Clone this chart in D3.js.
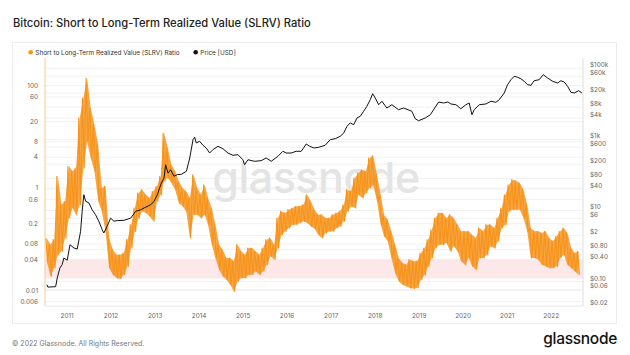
<!DOCTYPE html>
<html><head><meta charset="utf-8">
<script src="https://cdn.jsdelivr.net/npm/d3@7"></script>
<style>
body{margin:0;background:#fff;}
svg{display:block;font-family:Inter,"Noto Sans",sans-serif;}
</style></head><body>
<svg id="c" width="630" height="355"></svg>
<script>
const years = [2011,2012,2013,2014,2015,2016,2017,2018,2019,2020,2021,2022];
const leftTicks = [100,60,20,8,4,1,0.6,0.2,0.08,0.04,0.01,0.006];
const leftTickLabels = ["100","60","20","8","4","1","0.6","0.2","0.08","0.04","0.01","0.006"];
const rightTicks = [100000,60000,20000,8000,4000,1000,600,200,80,40,10,6,2,0.8,0.4,0.1,0.06,0.02];
const rightTickLabels = ["$100k","$60k","$20k","$8k","$4k","$1k","$600","$200","$80","$40","$10","$6","$2","$0.80","$0.40","$0.10","$0.06","$0.02"];
const bandRange = [0.017, 0.04];

// SLRV: monthly high / low of the daily ratio, from Jul 2010 to Aug 2022
const slrvStartMonth = "2010-07-01";
const slrvHigh = [
 0.105,0.078,0.098,1.69,0.472,0.549,2.65,2.12,2.46,23.4,
 57.5,141,36.6,17.3,7.03,1.00,1.08,0.105,0.0623,0.0497,
 0.0497,0.0536,0.0977,0.192,0.406,0.799,0.928,0.740,0.637,0.861,
 1.08,1.69,11.9,6.05,2.86,2.12,1.35,1.00,0.861,0.637,
 1.82,1.00,0.740,1.16,0.637,0.406,0.192,0.078,0.0623,0.0428,
 0.0428,0.0368,0.078,0.0578,0.0497,0.0671,0.0671,0.0578,0.0497,0.0671,
 0.0977,0.105,0.078,0.259,0.350,0.324,0.377,0.406,0.438,0.438,
 0.472,0.740,0.549,0.377,0.301,0.301,0.259,0.259,0.301,0.324,
 0.350,0.472,0.928,0.861,1.57,1.97,2.28,2.12,3.86,4.29,
 1.82,0.740,0.301,0.240,0.142,0.078,0.0428,0.0342,0.0317,0.0397,
 0.0368,0.0368,0.0536,0.0671,0.0977,0.153,0.259,0.324,0.324,0.259,
 0.301,0.259,0.192,0.142,0.142,0.142,0.122,0.105,0.165,0.142,
 0.192,0.192,0.165,0.259,0.406,0.740,1.16,1.455,1.39,1.25,
 0.928,0.472,0.165,0.142,0.142,0.132,0.142,0.105,0.0907,0.1135,
 0.142,0.165,0.132,0.0671,0.0536,0.0578];
const slrvLow = [
 0.0368,0.0188,0.0273,0.0497,0.0578,0.105,0.259,0.406,0.301,0.472,
 2.46,8.18,3.86,2.12,0.549,0.350,0.142,0.0273,0.0202,0.0174,
 0.0169,0.0202,0.0294,0.0671,0.142,0.259,0.350,0.324,0.279,0.223,
 0.549,0.740,1.35,1.57,1.25,0.928,0.509,0.438,0.350,0.105,
 0.301,0.301,0.259,0.301,0.192,0.078,0.0428,0.0253,0.0188,0.0161,
 0.0129,0.00954,0.0150,0.0174,0.0174,0.0202,0.0202,0.0235,0.0202,0.0235,
 0.0317,0.0461,0.0397,0.0671,0.122,0.142,0.165,0.192,0.192,0.207,
 0.223,0.207,0.178,0.160,0.122,0.105,0.132,0.142,0.142,0.165,
 0.178,0.223,0.350,0.438,0.406,0.740,0.637,0.799,1.00,1.16,
 0.549,0.192,0.1135,0.0907,0.0428,0.0218,0.0150,0.0129,0.0120,0.0111,
 0.0108,0.0111,0.0161,0.0202,0.0294,0.0428,0.0671,0.078,0.078,0.0841,
 0.0578,0.0724,0.0578,0.0368,0.0317,0.0428,0.0294,0.0253,0.0428,0.0428,
 0.0497,0.0724,0.0671,0.0907,0.165,0.192,0.350,0.377,0.377,0.377,
 0.259,0.142,0.0428,0.0428,0.0397,0.0317,0.0294,0.0273,0.0273,0.0294,
 0.0428,0.0497,0.0317,0.0273,0.0235,0.0202];

const priceDates = ["2010-07-18","2010-07-25","2010-09-28","2010-10-11","2010-11-02","2010-11-21","2010-12-05","2011-01-02","2011-01-25","2011-02-27",
"2011-03-26","2011-04-23","2011-05-06","2011-05-20","2011-06-04","2011-07-01","2011-07-28","2011-08-25","2011-09-21","2011-10-19",
"2011-11-02","2011-11-29","2011-12-28","2012-01-24","2012-02-21","2012-04-17","2012-06-12","2012-07-23","2012-09-03","2012-10-01",
"2012-11-25","2012-12-23","2013-01-19","2013-02-16","2013-03-15","2013-03-29","2013-04-17","2013-05-10","2013-06-06","2013-07-03",
"2013-08-06","2013-09-17","2013-10-15","2013-11-11","2013-11-25","2013-12-08","2014-01-05","2014-02-02","2014-03-01","2014-03-29",
"2014-04-25","2014-06-06","2014-07-17","2014-08-28","2014-10-09","2014-11-19","2014-12-30","2015-01-13","2015-02-10","2015-04-06",
"2015-05-31","2015-07-11","2015-08-22","2015-10-17","2015-11-27","2015-12-24","2016-02-04","2016-03-16","2016-04-27","2016-06-08",
"2016-07-06","2016-08-11",
"2016-09-19","2016-11-12","2016-12-24","2017-02-04","2017-03-17","2017-04-15","2017-05-12","2017-06-08","2017-07-07","2017-08-03",
"2017-08-30","2017-09-27","2017-10-24","2017-11-21","2017-12-11","2018-01-02","2018-01-30","2018-02-26","2018-04-08","2018-05-20",
"2018-07-14","2018-08-25","2018-11-02","2018-11-29","2018-12-27","2019-02-21","2019-04-04","2019-05-10","2019-06-12","2019-07-23",
"2019-08-28",
"2019-09-22","2019-11-02","2019-12-13","2020-01-24","2020-02-20","2020-03-14","2020-04-02","2020-05-14","2020-07-08","2020-08-19",
"2020-09-29","2020-10-27","2020-12-07","2021-01-04","2021-02-01","2021-02-28","2021-03-28","2021-04-24","2021-05-22","2021-06-19",
"2021-07-17","2021-08-13","2021-09-23","2021-10-27","2021-12-02","2022-01-13","2022-02-23","2022-03-23","2022-04-19","2022-05-17",
"2022-06-14","2022-07-11","2022-08-17","2022-09-13"];
const priceValues = [0.082,0.070,0.072,0.126,0.24,0.30,0.46,0.40,1.09,0.88,
0.83,2.6,9.5,27.8,18.2,16.3,10.5,7.6,5.0,2.9,
2.33,3.6,6.1,5.0,5.2,5.3,6.1,9.5,10.5,11.8,
14.5,18.2,27.8,53,82,194,113,140,92,102,
104,127,300,982,1146,793,885,683,573,414,
513,640,547,414,357,372,268,194,268,242,
252,300,242,335,463,414,414,463,463,743,
640,573,
600,683,982,1047,1223,1514,2333,2893,2594,4000,
4467,6170,8531,13090,19300,14620,9460,11800,7640,9460,
6840,7640,6170,3823,3360,4000,4955,7640,11270,10570,
11270,
9910,9460,7310,9460,10570,4955,6840,9460,9910,11800,
11060,13090,20190,34570,47750,59600,55800,50900,43050,34570,
33240,44770,47750,66070,53330,43050,38630,44770,41170,31190,
21130,20190,23440,20190];

const ORANGE = "#F7931A";
const svg = d3.select("#c");
const plot = {l:45, r:583, t:58, b:306};

const x = d3.scaleUtc().domain([new Date(Date.UTC(2011,0,1)), new Date(Date.UTC(2022,0,1))]).range([67.1, 551.2]);
const yL = d3.scaleLog().domain([0.01, 100]).range([290.3, 85.7]);
const yR = d3.scaleLog().domain([0.1, 100000]).range([281.6, 68.3]);
const parse = d3.utcParse("%Y-%m-%d");

// title
svg.append("text").attr("x",13).attr("y",27).attr("font-size",11.2).attr("font-weight",500)
  .attr("fill","#222").text("Bitcoin: Short to Long-Term Realized Value (SLRV) Ratio");

// card
svg.append("rect").attr("x",12.5).attr("y",42.5).attr("width",604).attr("height",281)
  .attr("fill","#fff").attr("stroke","#ececec");

// legend
svg.append("circle").attr("cx",30.7).attr("cy",52.3).attr("r",2.3).attr("fill",ORANGE);
svg.append("text").attr("x",35.3).attr("y",54.7).attr("font-size",6.4).attr("fill","#333")
  .text("Short to Long-Term Realized Value (SLRV) Ratio");
svg.append("circle").attr("cx",195.7).attr("cy",52.3).attr("r",2.3).attr("fill","#111");
svg.append("text").attr("x",200.3).attr("y",54.7).attr("font-size",6.4).attr("fill","#333")
  .text("Price [USD]");

// grid
const grid = svg.append("g");
grid.selectAll("line.gl").data(leftTicks).join("line")
  .attr("x1",plot.l).attr("x2",plot.r).attr("y1",d=>yL(d)).attr("y2",d=>yL(d))
  .attr("stroke","#f1f1f1").attr("stroke-width",1);
grid.selectAll("line.gr").data(rightTicks).join("line")
  .attr("x1",plot.l).attr("x2",plot.r).attr("y1",d=>yR(d)).attr("y2",d=>yR(d))
  .attr("stroke","#f1f1f1").attr("stroke-width",1);

// watermark
svg.append("text").attr("x",316).attr("y",193).attr("text-anchor","middle")
  .attr("font-size",43).attr("font-weight",500).attr("fill","#e4e4e4").attr("letter-spacing",-0.5)
  .text("glassnode");

// band
svg.append("rect").attr("x",plot.l).attr("width",plot.r-plot.l)
  .attr("y",yL(bandRange[1])).attr("height",yL(bandRange[0])-yL(bandRange[1]))
  .attr("fill","#fbe4e4").attr("opacity",0.85);

// clip
svg.append("clipPath").attr("id","clip").append("rect")
  .attr("x",plot.l).attr("y",plot.t).attr("width",plot.r-plot.l).attr("height",plot.b-plot.t);

// SLRV series: monthly range shaded, with the monthly swings drawn on top
const start = parse(slrvStartMonth);
const months = slrvHigh.map((h,i)=>d3.utcMonth.offset(start,i));
const bandPts = months.map((m,i)=>({d:d3.utcDay.offset(m,15), lo:slrvLow[i], hi:slrvHigh[i]}));
svg.append("path").attr("clip-path","url(#clip)")
  .datum(bandPts)
  .attr("d", d3.area().x(d=>x(d.d)).y0(d=>yL(d.lo)).y1(d=>yL(d.hi)))
  .attr("fill",ORANGE).attr("opacity",0.82);
const slrvPts = [];
slrvHigh.forEach((h,i)=>{
  slrvPts.push([d3.utcDay.offset(months[i],7), h]);
  slrvPts.push([d3.utcDay.offset(months[i],22), slrvLow[i]]);
});
svg.append("path").attr("clip-path","url(#clip)")
  .datum(slrvPts)
  .attr("d", d3.line().x(d=>x(d[0])).y(d=>yL(d[1])))
  .attr("fill","none").attr("stroke",ORANGE).attr("stroke-width",1.1).attr("stroke-linejoin","round");

// price
const pricePts = priceDates.map((d,i)=>[parse(d), priceValues[i]]);
svg.append("path").attr("clip-path","url(#clip)")
  .datum(pricePts)
  .attr("d", d3.line().x(d=>x(d[0])).y(d=>yR(d[1])))
  .attr("fill","none").attr("stroke","#111").attr("stroke-width",1).attr("stroke-linejoin","round");

// axes lines
svg.append("line").attr("x1",plot.l).attr("x2",plot.l).attr("y1",plot.t).attr("y2",plot.b)
  .attr("stroke","#f8c88e").attr("stroke-width",1);
svg.append("line").attr("x1",plot.r).attr("x2",plot.r).attr("y1",plot.t).attr("y2",plot.b)
  .attr("stroke","#ddd").attr("stroke-width",1);
svg.append("line").attr("x1",plot.l).attr("x2",plot.r).attr("y1",plot.b).attr("y2",plot.b)
  .attr("stroke","#eee").attr("stroke-width",1);

// left labels
svg.append("g").selectAll("text").data(leftTicks).join("text")
  .attr("x",38).attr("y",d=>yL(d)).attr("dy","0.35em").attr("text-anchor","end")
  .attr("font-size",6.4).attr("fill","#666").text((d,i)=>leftTickLabels[i]);
// right labels
svg.append("g").selectAll("text").data(rightTicks).join("text")
  .attr("x",590).attr("y",d=>yR(d)-3.3).attr("dy","0.35em")
  .attr("font-size",6.4).attr("fill","#666").text((d,i)=>rightTickLabels[i]);
// x labels
svg.append("g").selectAll("text").data(years).join("text")
  .attr("x",d=>x(new Date(Date.UTC(d,0,1)))).attr("y",316).attr("dy","0.35em").attr("text-anchor","middle")
  .attr("font-size",6.4).attr("fill","#666").text(d=>d);

// footer
svg.append("text").attr("x",12).attr("y",345.5).attr("font-size",7).attr("fill","#777")
  .text("© 2022 Glassnode. All Rights Reserved.");
svg.append("text").attr("x",617).attr("y",344).attr("text-anchor","end").attr("font-size",15.5)
  .attr("font-weight",500).attr("fill","#111").attr("letter-spacing",-0.3).text("glassnode");
</script>
</body></html>
